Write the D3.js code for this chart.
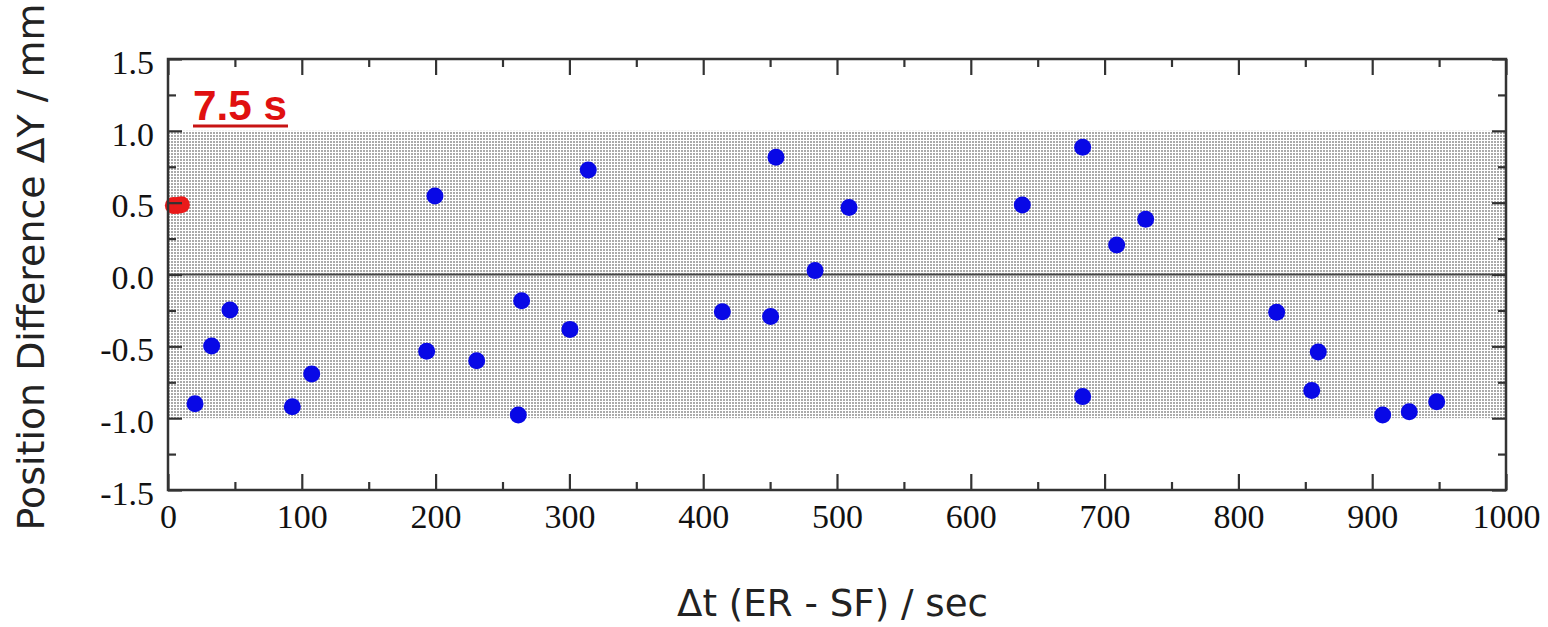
<!DOCTYPE html>
<html>
<head>
<meta charset="utf-8">
<script src="https://cdn.jsdelivr.net/npm/d3@7"></script>
<style>
  body { margin: 0; background: #fff; }
  svg { display: block; }
</style>
</head>
<body>
<script>
const blueX = [20.2, 32.6, 46.3, 92.9, 107.4, 193.3, 199.5, 230.7, 261.8, 264.3, 300.4, 314.1,
               414.3, 450.4, 454.4, 483.6, 509.0, 638.5, 683.6, 683.6, 709.0, 730.7,
               828.6, 854.8, 859.7, 907.8, 927.7, 948.2];
const blueY = [-0.90, -0.498, -0.247, -0.92, -0.693, -0.535, 0.546, -0.60, -0.978, -0.182, -0.382, 0.727,
               -0.259, -0.293, 0.816, 0.027, 0.467, 0.484, 0.885, -0.85, 0.205, 0.384,
               -0.263, -0.808, -0.539, -0.978, -0.955, -0.885];
const redX = [4, 7, 10];
const redY = [0.48, 0.48, 0.485];

const xMajor = [0, 100, 200, 300, 400, 500, 600, 700, 800, 900, 1000];
const xMinor = [50, 150, 250, 350, 450, 550, 650, 750, 850, 950];
const yMajor = [-1.5, -1.0, -0.5, 0.0, 0.5, 1.0, 1.5];
const yMinor = [-1.25, -0.75, -0.25, 0.25, 0.75, 1.25];
const band = [-1, 1];

const W = 1548, H = 627;
const mLeft = 168, mRight = 1506, mTop = 59, mBottom = 490;

const svg = d3.select("body").append("svg")
  .attr("width", W).attr("height", H);

const x = d3.scaleLinear().domain([0, 1000]).range([mLeft, mRight]);
const y = d3.scaleLinear().domain([-1.5, 1.5]).range([mBottom, mTop]);

// dotted fill for the +-1 mm band
const pat = svg.append("defs").append("pattern")
  .attr("id", "dots")
  .attr("patternUnits", "userSpaceOnUse")
  .attr("width", 3).attr("height", 3);
pat.append("rect").attr("width", 3).attr("height", 3).attr("fill", "#fff");
pat.append("rect").attr("width", 2).attr("height", 2).attr("fill", "#aaa");

svg.append("rect")
  .attr("x", x(0)).attr("y", y(band[1]))
  .attr("width", x(1000) - x(0))
  .attr("height", y(band[0]) - y(band[1]))
  .attr("fill", "url(#dots)");

// zero line
svg.append("line")
  .attr("x1", x(0)).attr("x2", x(1000))
  .attr("y1", y(0)).attr("y2", y(0))
  .attr("stroke", "#444").attr("stroke-width", 2);

// points
svg.append("g").selectAll("circle")
  .data(blueX.map((d, i) => [d, blueY[i]]))
  .enter().append("circle")
  .attr("cx", d => x(d[0]))
  .attr("cy", d => y(d[1]))
  .attr("r", 8.5)
  .attr("fill", "#0808e6");

svg.append("g").selectAll("circle")
  .data(redX.map((d, i) => [d, redY[i]]))
  .enter().append("circle")
  .attr("cx", d => x(d[0]))
  .attr("cy", d => y(d[1]))
  .attr("r", 8.5)
  .attr("fill", "#ea1a1a");

// axes (ticks point inward)
const tickFont = "'Liberation Serif', 'Times New Roman', serif";

function styleAxis(g) {
  g.select(".domain").remove();
  g.selectAll("line").attr("stroke", "#333").attr("stroke-width", 2.2);
}

svg.append("g").attr("transform", "translate(0," + mBottom + ")")
  .call(d3.axisBottom(x).tickValues(xMajor).tickSize(-16).tickFormat(d3.format("d")))
  .call(styleAxis)
  .call(g => g.selectAll("text")
    .attr("y", 38).attr("dy", 0)
    .attr("fill", "#111")
    .style("font-family", tickFont).style("font-size", "34px"));

svg.append("g").attr("transform", "translate(0," + mBottom + ")")
  .call(d3.axisBottom(x).tickValues(xMinor).tickSize(-8).tickFormat(""))
  .call(styleAxis);

svg.append("g").attr("transform", "translate(0," + mTop + ")")
  .call(d3.axisTop(x).tickValues(xMajor).tickSize(-16).tickFormat(""))
  .call(styleAxis);

svg.append("g").attr("transform", "translate(0," + mTop + ")")
  .call(d3.axisTop(x).tickValues(xMinor).tickSize(-8).tickFormat(""))
  .call(styleAxis);

svg.append("g").attr("transform", "translate(" + mLeft + ",0)")
  .call(d3.axisLeft(y).tickValues(yMajor).tickSize(-14)
    .tickFormat(d => d3.format(".1f")(d).replace("−", "-")))
  .call(styleAxis)
  .call(g => g.selectAll("text")
    .attr("x", -14).attr("dy", "0.42em")
    .attr("fill", "#111")
    .style("font-family", tickFont).style("font-size", "34px"));

svg.append("g").attr("transform", "translate(" + mLeft + ",0)")
  .call(d3.axisLeft(y).tickValues(yMinor).tickSize(-8).tickFormat(""))
  .call(styleAxis);

svg.append("g").attr("transform", "translate(" + mRight + ",0)")
  .call(d3.axisRight(y).tickValues(yMajor).tickSize(-14).tickFormat(""))
  .call(styleAxis);

svg.append("g").attr("transform", "translate(" + mRight + ",0)")
  .call(d3.axisRight(y).tickValues(yMinor).tickSize(-8).tickFormat(""))
  .call(styleAxis);

// frame
svg.append("rect")
  .attr("x", mLeft).attr("y", mTop)
  .attr("width", mRight - mLeft).attr("height", mBottom - mTop)
  .attr("fill", "none").attr("stroke", "#333").attr("stroke-width", 2.5);

// axis titles, sized to the measured widths
function fitText(t, target) {
  t.style("font-size", "30px");
  const len = t.node().getComputedTextLength();
  t.style("font-size", (30 * target / len) + "px");
}

const xt = svg.append("text")
  .attr("x", (677 + 988) / 2).attr("y", 616)
  .attr("text-anchor", "middle")
  .attr("fill", "#222")
  .style("font-family", "'DejaVu Sans', Verdana, sans-serif")
  .text("Δt (ER - SF) / sec");
fitText(xt, 311);

const yt = svg.append("text")
  .attr("transform", "translate(44,267) rotate(-90)")
  .attr("text-anchor", "middle")
  .attr("fill", "#222")
  .style("font-family", "'DejaVu Sans', Verdana, sans-serif")
  .text("Position Difference ΔY / mm");
fitText(yt, 527);

// red annotation
const lab = svg.append("text")
  .attr("x", 193).attr("y", 120)
  .attr("fill", "#e01010")
  .style("font-family", "'Liberation Sans', Arial, sans-serif")
  .style("font-weight", "bold")
  .text("7.5 s");
fitText(lab, 94);

svg.append("line")
  .attr("x1", 193).attr("x2", 288)
  .attr("y1", 126).attr("y2", 126)
  .attr("stroke", "#c81414").attr("stroke-width", 3);
</script>
</body>
</html>
